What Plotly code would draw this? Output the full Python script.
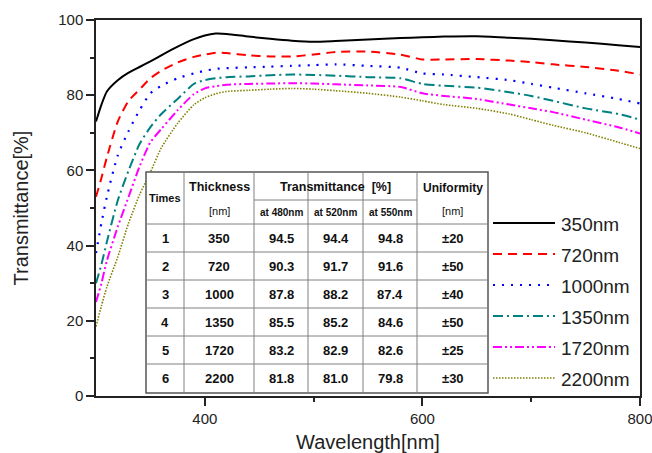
import plotly.graph_objects as go

# ---------------- data ----------------
wavelength = [300, 305, 310, 320, 330, 340, 350, 360, 375, 390, 400, 410, 420, 440, 460,
              480, 500, 520, 550, 580, 600, 620, 650, 680, 700, 720, 750, 780, 800]

t_350 = [73, 77.5, 81, 84, 86, 87.5, 89, 90.6, 92.9, 94.9, 95.9, 96.4, 96.3, 95.6, 95,
         94.5, 94.2, 94.4, 94.8, 95.2, 95.4, 95.6, 95.7, 95.3, 95, 94.6, 94, 93.3, 92.8]
t_720 = [53, 58, 63.5, 73, 78.5, 81.5, 84.5, 86.5, 88.7, 90.2, 90.8, 91.3, 91.2, 90.6, 90.3,
         90.3, 90.8, 91.5, 91.6, 90.8, 89.5, 89.5, 89.6, 89.2, 88.8, 88.2, 87.5, 86.5, 85.5]
t_1000 = [38, 46, 53, 64, 70.5, 76, 80.5, 82.5, 84.5, 85.8, 86.5, 87, 87.2, 87.4, 87.6,
          87.8, 88, 88.2, 87.8, 87.3, 85.8, 85.5, 84.8, 84, 83, 82, 80.5, 79, 77.8]
t_1350 = [30, 35, 41, 52, 60, 67, 71.5, 75, 79, 83, 84, 84.5, 84.8, 85, 85.3,
          85.5, 85.4, 85.2, 84.8, 84.5, 83, 82.5, 82, 80.8, 79.8, 78.5, 76.5, 75, 73.5]
t_1720 = [25, 30, 36, 45, 53, 61, 67.5, 71, 76, 80.3, 81.8, 82.4, 82.8, 83, 83.1,
          83.2, 83.1, 82.9, 82.6, 82.2, 80.5, 79.8, 79, 77.5, 76.5, 75.5, 73.5, 71.5, 69.8]
t_2200 = [18.5, 24, 29, 37, 46, 53.5, 59.5, 66, 72.5, 77.5, 79.3, 80.4, 81, 81.3, 81.6,
          81.8, 81.6, 81.2, 80.5, 79.5, 78.5, 77.5, 76.5, 75, 73.5, 72, 70, 67.5, 65.8]

series_names = ["350nm", "720nm", "1000nm", "1350nm", "1720nm", "2200nm"]
series_values = [t_350, t_720, t_1000, t_1350, t_1720, t_2200]

x_ticks = [400, 600, 800]
y_ticks = [0, 20, 40, 60, 80, 100]

# table contents
tbl_times = ["1", "2", "3", "4", "5", "6"]
tbl_thickness = ["350", "720", "1000", "1350", "1720", "2200"]
tbl_t480 = ["94.5", "90.3", "87.8", "85.5", "83.2", "81.8"]
tbl_t520 = ["94.4", "91.7", "88.2", "85.2", "82.9", "81.0"]
tbl_t550 = ["94.8", "91.6", "87.4", "84.6", "82.6", "79.8"]
tbl_uniformity = ["±20", "±50", "±40", "±50", "±25", "±30"]
tbl_subheads = ["at 480nm", "at 520nm", "at 550nm"]

# ---------------- styles ----------------
colors = ["#000000", "#FF0000", "#0000FF", "#008080", "#FF00FF", "#808000"]
dashes = ["solid", "9px,6px", "2px,7px", "10px,4px,2px,4px", "9px,3px,2px,3px,2px,3px", "1.5px,1.5px"]
widths = [2, 2, 2.2, 2, 2, 1.6]

W, H = 652, 453
L, R, T, B = 96, 12, 20, 57
PW, PH = W - L - R, H - T - B
FONT = "Liberation Sans, Arial"


def px(xp):
    return (xp - L) / PW


def py(yp):
    return (H - B - yp) / PH


fig = go.Figure()
for name, vals, c, d, w in zip(series_names, series_values, colors, dashes, widths):
    fig.add_trace(go.Scatter(x=wavelength, y=vals, mode="lines", name=name,
                             line=dict(color=c, dash=d, width=w, shape="spline", smoothing=0.6)))

shapes = []
annotations = []

# table geometry (pixels)
col_x = [146, 184, 254, 308, 363, 417, 488]
row_y = [172, 224, 252, 280, 308, 336, 364, 393]
head_mid = 200
grid = dict(color="#808080", width=1)

shapes.append(dict(type="rect", xref="paper", yref="paper", x0=px(col_x[0]), x1=px(col_x[-1]),
                   y0=py(row_y[-1]), y1=py(row_y[0]), fillcolor="white",
                   line=dict(color="#555555", width=1.5), layer="above"))
for xv in col_x[1:-1]:
    shapes.append(dict(type="line", xref="paper", yref="paper", x0=px(xv), x1=px(xv),
                       y0=py(row_y[-1]), y1=py(row_y[0]), line=grid, layer="above"))
for yv in row_y[1:-1]:
    shapes.append(dict(type="line", xref="paper", yref="paper", x0=px(col_x[0]), x1=px(col_x[-1]),
                       y0=py(yv), y1=py(yv), line=grid, layer="above"))
shapes.append(dict(type="line", xref="paper", yref="paper", x0=px(col_x[2]), x1=px(col_x[5]),
                   y0=py(head_mid), y1=py(head_mid), line=grid, layer="above"))


def txt(x, y, s, size=12, bold=True, anchor="center", color="#111111"):
    annotations.append(dict(x=px(x), y=py(y), xref="paper", yref="paper", text=("<b>%s</b>" % s) if bold else s,
                            showarrow=False, xanchor=anchor, yanchor="middle",
                            font=dict(family=FONT, size=size, color=color)))


ccx = [(col_x[i] + col_x[i + 1]) / 2 for i in range(6)]
txt(ccx[0], 198, "Times", 11)
txt(ccx[1], 187, "Thickness", 12.5)
txt(ccx[1], 211, "[nm]", 11, False)
txt((col_x[2] + col_x[5]) / 2, 187, "Transmittance&nbsp;&nbsp;[%]", 12.5)
for i, s in enumerate(tbl_subheads):
    txt(ccx[2 + i], 212, s, 10)
txt(ccx[5], 188, "Uniformity", 12)
txt(ccx[5], 211, "[nm]", 11, False)

for r in range(6):
    yc = (row_y[r + 1] + row_y[r + 2]) / 2
    for c, col in enumerate([tbl_times, tbl_thickness, tbl_t480, tbl_t520, tbl_t550, tbl_uniformity]):
        txt(ccx[c], yc, col[r], 13)

# legend (drawn as line samples + labels, right of the table)
leg_x0, leg_x1, leg_tx = 493, 555, 559
leg_y0, leg_dy = 223, 31
for i, (name, c, d, w) in enumerate(zip(series_names, colors, dashes, widths)):
    yy = leg_y0 + i * leg_dy
    shapes.append(dict(type="line", xref="paper", yref="paper", x0=px(leg_x0), x1=px(leg_x1),
                       y0=py(yy), y1=py(yy), line=dict(color=c, dash=d, width=w), layer="above"))
    txt(leg_tx, yy + 1, name, 19, False, "left", "#222222")

fig.update_layout(
    width=W, height=H,
    margin=dict(l=L, r=R, t=T, b=B),
    paper_bgcolor="white", plot_bgcolor="white",
    font=dict(family=FONT, color="#222222"),
    showlegend=False,
    shapes=shapes,
    annotations=annotations,
    xaxis=dict(range=[300, 800], tickvals=x_ticks, ticks="outside", ticklen=8, tickwidth=1.5,
               tickcolor="#222222", automargin=False, ticklabeloverflow="allow",
               showline=True, linewidth=1.5, linecolor="#222222", mirror=True, showgrid=False,
               zeroline=False, tickfont=dict(size=15, color="#222222"),
               minor=dict(tickvals=[500, 700], ticks="outside", ticklen=4, tickwidth=1.5, tickcolor="#222222"),
               title=dict(text="Wavelength[nm]", font=dict(size=20, color="#222222"), standoff=13)),
    yaxis=dict(range=[0, 100], tickvals=y_ticks, ticks="outside", ticklen=8, tickwidth=1.5,
               tickcolor="#222222", automargin=False, ticklabeloverflow="allow",
               showline=True, linewidth=1.5, linecolor="#222222", mirror=True, showgrid=False,
               zeroline=False, tickfont=dict(size=15, color="#222222"),
               minor=dict(tickvals=[10, 30, 50, 70, 90], ticks="outside", ticklen=4, tickwidth=1.5,
                          tickcolor="#222222"),
               title=dict(text="Transmittance[%]", font=dict(size=20, color="#222222"), standoff=24)),
)

fig.write_html("out.html")
